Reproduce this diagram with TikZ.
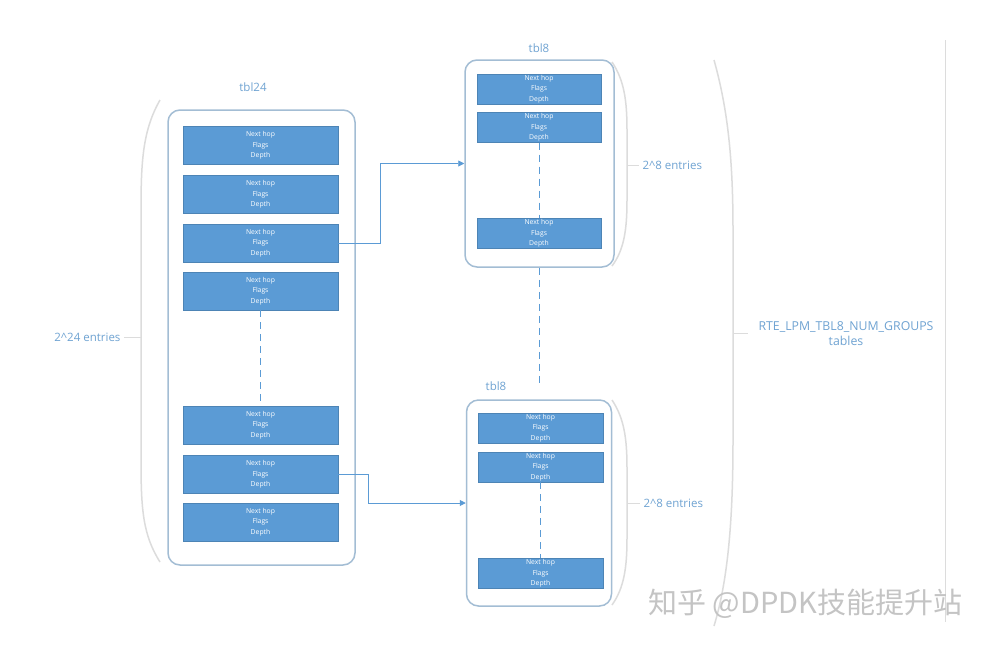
\documentclass[tikz,border=0pt]{standalone}
\usepackage{fontspec}
\setmainfont{Open Sans}
\newfontfamily\cjk{Noto Sans CJK SC}
\usetikzlibrary{arrows.meta}
\definecolor{entryblue}{HTML}{5B9BD5}
\definecolor{boxline}{HTML}{A3BDD4}
\definecolor{labelblue}{HTML}{6FA3D2}
\definecolor{bracketgray}{HTML}{DCDCDC}
\definecolor{wmgray}{HTML}{C4C4C4}
\tikzset{
  container/.style={draw=boxline, line width=1.5pt, fill=white, rounded corners=12pt},
  entry/.style={fill=entryblue, draw=entryblue!85!black, line width=0.3pt, text=white, align=center,
    font=\fontsize{6.8}{10.5}\selectfont, inner sep=0pt},
  lbl/.style={text=labelblue, font=\fontsize{11.5}{14}\selectfont, align=center},
  brk/.style={draw=bracketgray, line width=1.5pt},
  conn/.style={draw=entryblue, line width=0.9pt},
  dsh/.style={draw=entryblue, line width=0.9pt, dash pattern=on 7pt off 5pt},
}
\newcommand{\entrytext}{Next hop\\Flags\\Depth}
\begin{document}
\begin{tikzpicture}[x=1pt,y=-1pt]
\useasboundingbox (0,0) rectangle (996,649);
\fill[white] (0,0) rectangle (996,649);

% ---------- tbl24 ----------
\node[container, minimum width=187pt, minimum height=455pt] (t24) at (261.5,337.5) {};
\node[lbl] (t24l) at (253,87) {tbl24};
\foreach \n/\y in {a/145.5,b/194.5,c/243,d/291,e/425,f/474.5,g/522}{
  \node[entry, minimum width=155pt, minimum height=38pt] (e\n) at (260.5,\y) {\entrytext};
}
\draw[dsh] (ed.south) -- (ee.north);

% left bracket
\draw[brk] (160,100) .. controls (143,130) and (141,160) .. (141,210) -- (141,460)
  .. controls (141,510) and (143,535) .. (160,562);
\coordinate (lt) at (141,337);
\node[lbl, anchor=east] (l24) at (124,337) {2\^{}24 entries};
\draw[brk, line width=1pt] (l24.east) -- (lt);

% ---------- tbl8 top ----------
\node[container, minimum width=149pt, minimum height=207pt] (u8) at (539.5,163.5) {};
\node[lbl] (u8l) at (539,48) {tbl8};
\foreach \n/\y in {a/89,b/127.5,c/233.5}{
  \node[entry, minimum width=124pt, minimum height=30pt] (u\n) at (539,\y) {\entrytext};
}
\draw[dsh] (ub.south) -- (uc.north);
\draw[brk] (612,62) .. controls (624,80) and (627,100) .. (627,130) -- (627,200)
  .. controls (627,230) and (624,250) .. (612,266);
\coordinate (ut) at (627,165);
\node[lbl, anchor=west] (u8e) at (639,165) {2\^{}8 entries};
\draw[brk, line width=1pt] (ut) -- (u8e.west);

% ---------- tbl8 bottom ----------
\node[container, minimum width=145pt, minimum height=206pt] (d8) at (539,503) {};
\node[lbl] (d8l) at (496,386) {tbl8};
\foreach \n/\y in {a/428,b/467,c/573.5}{
  \node[entry, minimum width=125pt, minimum height=30pt] (d\n) at (540.5,\y) {\entrytext};
}
\draw[dsh] (db.south) -- (dc.north);
\draw[brk] (612,400) .. controls (624,418) and (627,438) .. (627,468) -- (627,538)
  .. controls (627,568) and (624,588) .. (612,605);
\coordinate (dt) at (627,503);
\node[lbl, anchor=west] (d8e) at (640,503) {2\^{}8 entries};
\draw[brk, line width=1pt] (dt) -- (d8e.west);

% dashed link between tbl8 tables
\draw[dsh] (u8.south) -- ([yshift=-5pt]d8l.north -| u8.south);

% ---------- connectors ----------
\draw[conn, -{Triangle[length=6pt,width=6pt]}] (ec.east) -- (380,243) |- (u8.west);
\draw[conn, -{Triangle[length=6pt,width=6pt]}] (ef.east) -- (368,474.5) |- (d8.west);

% ---------- big bracket ----------
\draw[brk] (714,60) .. controls (728,110) and (733,160) .. (733,230) -- (733,440)
  .. controls (733,520) and (728,580) .. (714,626);
\coordinate (bt) at (733,333);
\node[lbl, font=\fontsize{12.3}{15}\selectfont] (big) at (846,334) {RTE\_LPM\_TBL8\_NUM\_GROUPS\\tables};
\draw[brk, line width=1pt] (bt) -- (748,333);

% right vertical line
\draw[draw=bracketgray, line width=0.8pt] (945,40) -- (945,622);

% watermark
\node[text=wmgray, font=\cjk\fontsize{29}{33}\selectfont, anchor=west, inner sep=0pt] (wm) at (648,604) {知乎 @DPDK技能提升站};
\end{tikzpicture}
\end{document}
